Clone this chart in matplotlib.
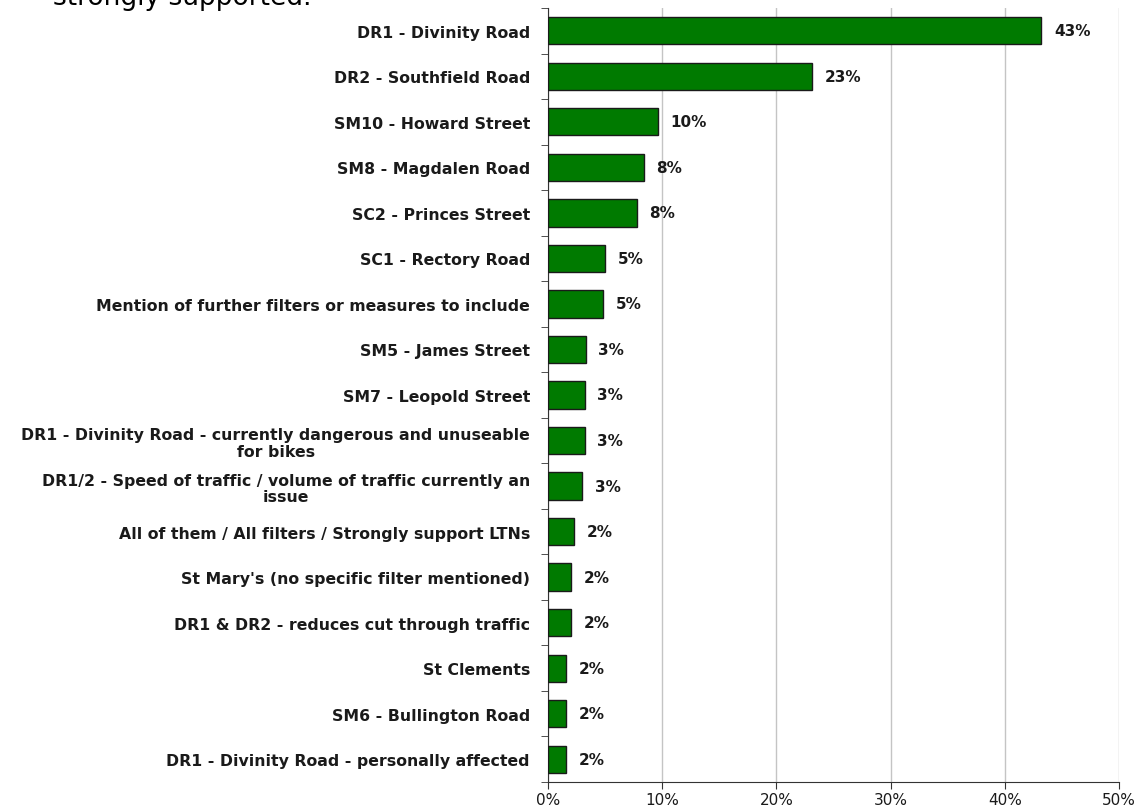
import matplotlib.pyplot as plt
import numpy as np

plt.rcParams['font.family'] = ['DejaVu Sans']

# categories, top to bottom
labels = [
    'DR1 - Divinity Road',
    'DR2 - Southfield Road',
    'SM10 - Howard Street',
    'SM8 - Magdalen Road',
    'SC2 - Princes Street',
    'SC1 - Rectory Road',
    'Mention of further filters or measures to include',
    'SM5 - James Street',
    'SM7 - Leopold Street',
    'DR1 - Divinity Road - currently dangerous and unuseable\nfor bikes',
    'DR1/2 - Speed of traffic / volume of traffic currently an\nissue',
    'All of them / All filters / Strongly support LTNs',
    "St Mary's (no specific filter mentioned)",
    'DR1 & DR2 - reduces cut through traffic',
    'St Clements',
    'SM6 - Bullington Road',
    'DR1 - Divinity Road - personally affected',
]
values = [43.2, 23.1, 9.6, 8.4, 7.8, 5.0, 4.8, 3.3, 3.2, 3.2, 3.0, 2.3, 2.0, 2.0, 1.6, 1.6, 1.6]
value_labels = ['43%', '23%', '10%', '8%', '8%', '5%', '5%', '3%', '3%', '3%', '3%',
                '2%', '2%', '2%', '2%', '2%', '2%']
xticks = [0, 10, 20, 30, 40, 50]

fig = plt.figure(figsize=(11.44, 8.12), dpi=100)
ax = fig.add_axes([548 / 1144, 29 / 812, 571 / 1144, 774 / 812])

y = np.arange(len(labels))
ax.barh(y, values, height=0.6, color='#007a00', edgecolor='#1a1a1a', linewidth=1.0, zorder=3)
for yi, v, t in zip(y, values, value_labels):
    ax.annotate(t, (v, yi), xytext=(9, 0), textcoords='offset points', va='center', ha='left',
                fontsize=11, fontweight='bold', color='#1a1a1a')

ax.set_ylim(len(labels) - 0.5, -0.5)
ax.set_xlim(0, 50)
ax.set_xticks(xticks)
ax.set_xticklabels([f'{t}%' for t in xticks], fontsize=11, color='#1a1a1a')
ax.set_yticks(y)
ax.set_yticklabels(labels, fontsize=11.3, fontweight='bold', color='#1a1a1a',
                   multialignment='center', linespacing=1.15)
ax.tick_params(axis='y', length=0, pad=13)
ax.set_yticks(np.arange(len(labels) + 1) - 0.5, minor=True)
ax.tick_params(axis='y', which='minor', length=5, direction='out', color='#333333')
ax.tick_params(axis='x', length=5, direction='out', color='#333333', pad=2)
ax.grid(axis='x', color='#c4c4c4', linewidth=1.0, zorder=0)
for s in ['top', 'right']:
    ax.spines[s].set_visible(False)
ax.spines['left'].set_color('#333333')
ax.spines['bottom'].set_color('#333333')

fig.text(53 / 1144, 1 - 5 / 812, 'strongly supported.', fontsize=19, ha='left', va='baseline',
         color='black')

fig.savefig('out.png', dpi=100)
